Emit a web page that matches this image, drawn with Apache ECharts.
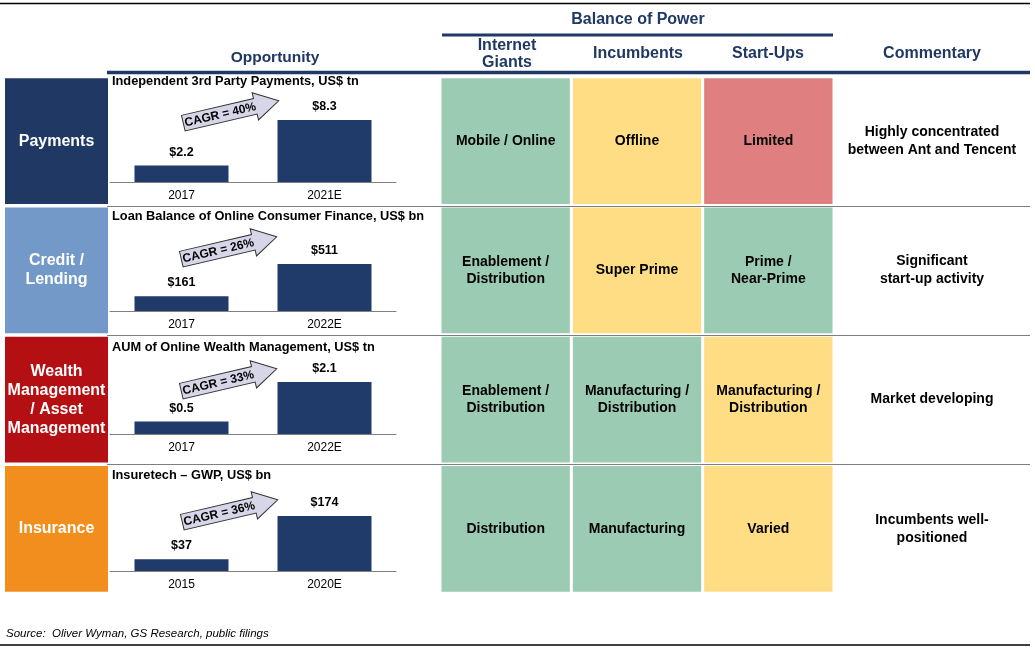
<!DOCTYPE html>
<html>
<head>
<meta charset="utf-8">
<script src="https://cdn.jsdelivr.net/npm/echarts@6/dist/echarts.min.js"></script>
<style>
html,body{margin:0;padding:0;background:#fff;}
#main{width:1035px;height:650px;}
</style>
</head>
<body>
<div id="main"></div>
<script>
// ---------- data ----------
const sectors = ['Payments', 'Credit /\nLending', 'Wealth\nManagement\n/ Asset\nManagement', 'Insurance'];
const chartTitles = [
  'Independent 3rd Party Payments, US$ tn',
  'Loan Balance of Online Consumer Finance, US$ bn',
  'AUM of Online Wealth Management, US$ tn',
  'Insuretech \u2013 GWP, US$ bn'
];
const years = [['2017', '2021E'], ['2017', '2022E'], ['2017', '2022E'], ['2015', '2020E']];
const values = [[2.2, 8.3], [161, 511], [0.5, 2.1], [37, 174]];
const cagr = ['40%', '26%', '33%', '36%'];
const columnHeaders = ['Internet\nGiants', 'Incumbents', 'Start-Ups'];
const internetGiants = ['Mobile / Online', 'Enablement /\nDistribution', 'Enablement /\nDistribution', 'Distribution'];
const incumbents = ['Offline', 'Super Prime', 'Manufacturing /\nDistribution', 'Manufacturing'];
const startUps = ['Limited', 'Prime /\nNear-Prime', 'Manufacturing /\nDistribution', 'Varied'];
const giantsRating = ['strong', 'strong', 'strong', 'strong'];
const incumbentsRating = ['medium', 'medium', 'strong', 'strong'];
const startUpsRating = ['weak', 'strong', 'medium', 'medium'];
const commentary = [
  'Highly concentrated\nbetween Ant and Tencent',
  'Significant\nstart-up activity',
  'Market developing',
  'Incumbents well-\npositioned'
];
const sourceNote = 'Source:  Oliver Wyman, GS Research, public filings';

// ---------- styles / layout ----------
const FONT = '"Liberation Sans", Arial, "DejaVu Sans", sans-serif';
const NAVY = '#1F3864';
const BAR = '#203A69';
const sectorColors = ['#1F3864', '#7299C8', '#B40F12', '#F28E1E'];
const ratingColors = { strong: '#9BCBB2', medium: '#FEDD84', weak: '#DF7F7F' };
const yMax = [10.7, 870, 3.23, 253];
const baselines = [182, 311, 434, 571];
const titleY = [82, 217, 348, 476];
const arrowPos = [[231, 112], [229, 248], [229, 380], [230, 511]];
const ROW_TOP = 76.5, ROW_H = 517;

const cellTexts = [internetGiants, incumbents, startUps];
const cellRatings = [giantsRating, incumbentsRating, startUpsRating];

const chart = echarts.init(document.getElementById('main'), null, { renderer: 'canvas' });

const grids = [], xAxes = [], yAxes = [], series = [], titles = [], graphics = [];

// mini bar charts
for (let i = 0; i < 4; i++) {
  grids.push({ left: 110, width: 286, top: baselines[i] - 80, height: 80 });
  xAxes.push({
    type: 'category', gridIndex: i, data: years[i],
    axisLine: { show: true, lineStyle: { color: '#808080', width: 1 } },
    axisTick: { show: false },
    axisLabel: { fontSize: 12, color: '#000', margin: 8, fontFamily: FONT }
  });
  yAxes.push({ type: 'value', gridIndex: i, min: 0, max: yMax[i], show: false, splitLine: { show: false } });
  series.push({
    type: 'bar', xAxisIndex: i, yAxisIndex: i, data: values[i], barWidth: 94,
    itemStyle: { color: BAR },
    label: {
      show: true, position: 'top', distance: 7, color: '#000', fontWeight: 'bold',
      fontSize: 12.5, fontFamily: FONT, formatter: p => '$' + p.value
    },
    silent: true, animation: false
  });
  titles.push({
    text: chartTitles[i], left: 112, top: titleY[i] - 7, padding: 0,
    textStyle: { fontSize: 12.8, fontWeight: 'bold', color: '#000', fontFamily: FONT }
  });
  graphics.push({
    type: 'group', x: arrowPos[i][0], y: arrowPos[i][1], rotation: 0.23, z: 10,
    children: [
      {
        type: 'polygon',
        shape: { points: [[-49, -8], [25, -8], [25, -14], [49, 0], [25, 14], [25, 8], [-49, 8]] },
        style: { fill: '#D6D6E8', stroke: '#333', lineWidth: 1 }
      },
      {
        type: 'text', x: -11, y: 0.5,
        style: {
          text: 'CAGR = ' + cagr[i], fill: '#000', font: 'bold 12px ' + FONT,
          textAlign: 'center', textVerticalAlign: 'middle'
        }
      }
    ]
  });
}

// matrix grid (index 4), sector labels (5), commentary (6)
const rowCats = ['0', '1', '2', '3'];
grids.push({ left: 440, width: 394, top: ROW_TOP, height: ROW_H });
grids.push({ left: 5, width: 103, top: ROW_TOP, height: ROW_H });
grids.push({ left: 834, width: 196, top: ROW_TOP, height: ROW_H });
xAxes.push({ type: 'category', gridIndex: 4, data: ['0', '1', '2'], show: false });
xAxes.push({ type: 'category', gridIndex: 5, data: ['0'], show: false });
xAxes.push({ type: 'category', gridIndex: 6, data: ['0'], show: false });
for (let g = 4; g <= 6; g++) {
  yAxes.push({ type: 'category', gridIndex: g, data: rowCats, inverse: true, show: false });
}

const matrixData = [];
for (let r = 0; r < 4; r++) for (let c = 0; c < 3; c++) matrixData.push([c, r]);
series.push({
  type: 'custom', xAxisIndex: 4, yAxisIndex: 4, data: matrixData, silent: true, animation: false,
  renderItem: function (params, api) {
    const c = api.value(0), r = api.value(1);
    const pt = api.coord([c, r]);
    const sz = api.size([1, 1]);
    const w = sz[0] - 3, h = sz[1] - 3.5;
    return {
      type: 'rect',
      shape: { x: pt[0] - w / 2, y: pt[1] - h / 2, width: w, height: h },
      style: { fill: ratingColors[cellRatings[c][r]] },
      textContent: {
        style: {
          text: cellTexts[c][r], fill: '#000', fontSize: 14, fontWeight: 'bold',
          fontFamily: FONT, lineHeight: 17, align: 'center', verticalAlign: 'middle'
        }
      },
      textConfig: { position: 'inside' }
    };
  }
});
series.push({
  type: 'custom', xAxisIndex: 5, yAxisIndex: 5, data: [[0, 0], [0, 1], [0, 2], [0, 3]],
  silent: true, animation: false,
  renderItem: function (params, api) {
    const r = api.value(1);
    const pt = api.coord([0, r]);
    const sz = api.size([1, 1]);
    const w = sz[0], h = sz[1] - 3.5;
    return {
      type: 'rect',
      shape: { x: pt[0] - w / 2, y: pt[1] - h / 2, width: w, height: h },
      style: { fill: sectorColors[r] },
      textContent: {
        style: {
          text: sectors[r], fill: '#fff', fontSize: 16, fontWeight: 'bold',
          fontFamily: FONT, lineHeight: 19, align: 'center', verticalAlign: 'middle'
        }
      },
      textConfig: { position: 'inside' }
    };
  }
});
series.push({
  type: 'custom', xAxisIndex: 6, yAxisIndex: 6, data: [[0, 0], [0, 1], [0, 2], [0, 3]],
  silent: true, animation: false,
  renderItem: function (params, api) {
    const r = api.value(1);
    const pt = api.coord([0, r]);
    return {
      type: 'text', x: pt[0], y: pt[1],
      style: {
        text: commentary[r], fill: '#000', fontSize: 14, fontWeight: 'bold',
        fontFamily: FONT, lineHeight: 18, align: 'center', verticalAlign: 'middle'
      }
    };
  }
});

// headers and rules
function hline(x1, x2, y, color, w) {
  return { type: 'line', shape: { x1: x1, y1: y, x2: x2, y2: y }, style: { stroke: color, lineWidth: w }, z: -1 };
}
graphics.push(hline(0, 1030, 3.5, '#000', 1.5));
graphics.push(hline(442, 833, 35, NAVY, 3));
graphics.push(hline(107, 1030, 72.5, NAVY, 3.5));
graphics.push(hline(107, 1030, 206.5, '#7F7F7F', 1.2));
graphics.push(hline(107, 1030, 335.5, '#7F7F7F', 1.2));
graphics.push(hline(107, 1030, 464.5, '#7F7F7F', 1.2));
graphics.push(hline(0, 1030, 645, '#000', 1.5));

function htext(txt, x, y, size) {
  return {
    type: 'text', x: x, y: y,
    style: {
      text: txt, fill: NAVY, font: 'bold ' + size + 'px ' + FONT,
      textAlign: 'center', textVerticalAlign: 'middle', lineHeight: 17
    }
  };
}
graphics.push(htext('Opportunity', 275, 58, 15.5));
graphics.push(htext('Balance of Power', 638, 20, 16));
const headerX = [507, 638, 768];
for (let c = 0; c < 3; c++) graphics.push(htext(columnHeaders[c], headerX[c], 54, 16));
graphics.push(htext('Commentary', 932, 54, 16));
graphics.push({
  type: 'text', x: 6, y: 634,
  style: { text: sourceNote, fill: '#000', font: 'italic 11.5px ' + FONT, textVerticalAlign: 'middle' }
});

chart.setOption({
  backgroundColor: '#fff',
  animation: false,
  title: titles,
  grid: grids,
  xAxis: xAxes,
  yAxis: yAxes,
  series: series,
  graphic: { elements: graphics }
});
</script>
</body>
</html>
